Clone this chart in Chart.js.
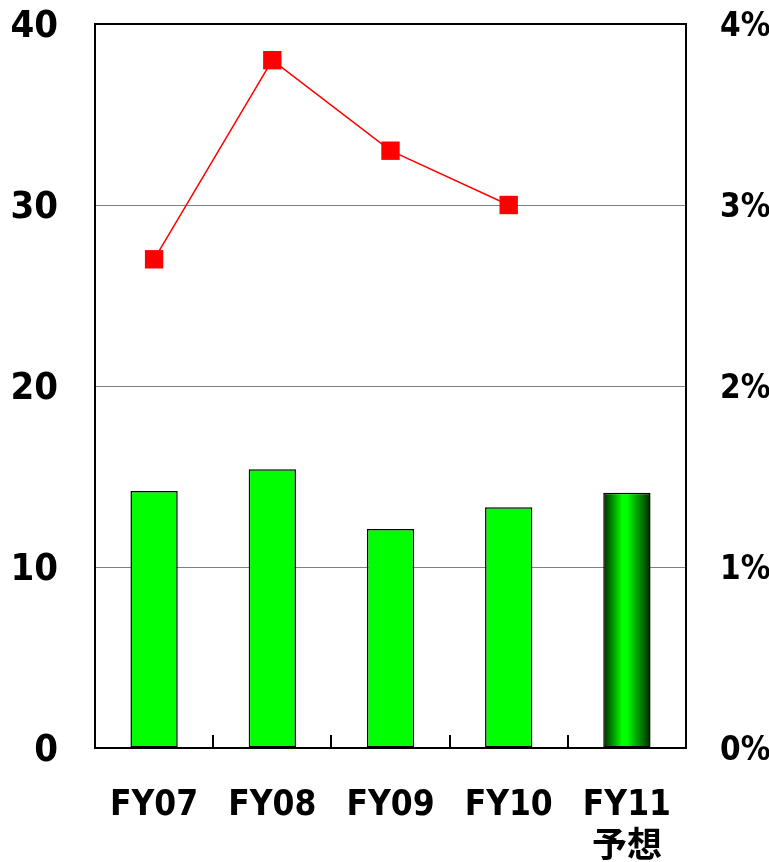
<!DOCTYPE html>
<html lang="ja">
<head>
    <meta charset="UTF-8">
    <title>FY07-FY11</title>
    <style>
        body { margin: 0; background: #fff; }
        #chart-container { width: 769px; height: 862px; }
    </style>
    <script src="https://cdn.jsdelivr.net/npm/chart.js"></script>
</head>
<body>
    <div id="chart-container">
        <canvas id="mainChart"></canvas>
    </div>
    <script>
        // 年度
        const categories = [['FY07'], ['FY08'], ['FY09'], ['FY10'], ['FY11', '予想']];
        // 棒グラフ (左軸)
        const barValues = [14.2, 15.4, 12.1, 13.3, 14.1];
        // 折れ線 (右軸, %) ; FY11 は値なし
        const lineValues = [2.7, 3.8, 3.3, 3.0, null];
        const leftTicks = [0, 10, 20, 30, 40];
        const rightTicks = [0, 1, 2, 3, 4];

        const FONT = "'DejaVu Sans Condensed', 'DejaVu Sans', 'Noto Sans CJK JP', sans-serif";
        const BAR_FRAC = 0.4;

        // 最後の棒だけグラデーション
        function barColor(ctx) {
            if (ctx.dataIndex !== barValues.length - 1) return '#00ff00';
            const chart = ctx.chart;
            const xs = chart.scales.x;
            if (!xs || !chart.chartArea) return '#00ff00';
            const cx = xs.getPixelForValue(ctx.dataIndex);
            const half = xs.width / categories.length * BAR_FRAC / 2;
            const g = chart.ctx.createLinearGradient(cx - half, 0, cx + half, 0);
            g.addColorStop(0, '#002800');
            g.addColorStop(0.4, '#00ff00');
            g.addColorStop(0.5, '#00ff00');
            g.addColorStop(1, '#002800');
            return g;
        }

        function noPad(s) {
            s.paddingTop = 0; s.paddingBottom = 0;
            s.paddingLeft = 0; s.paddingRight = 0;
        }

        // x軸の内向き目盛り
        const innerTicks = {
            id: 'innerTicks',
            afterDatasetsDraw(chart) {
                const xs = chart.scales.x;
                const c = chart.ctx;
                const y = chart.chartArea.bottom;
                c.save();
                c.strokeStyle = '#000';
                c.lineWidth = 2;
                for (let i = 1; i < categories.length; i++) {
                    const x = Math.round(xs.getPixelForValue(i - 0.5));
                    c.beginPath();
                    c.moveTo(x, y);
                    c.lineTo(x, y - 13);
                    c.stroke();
                }
                c.restore();
            }
        };

        new Chart(document.getElementById('mainChart'), {
            data: {
                labels: categories,
                datasets: [
                    {
                        type: 'line',
                        data: lineValues,
                        yAxisID: 'y2',
                        borderColor: '#ff0000',
                        borderWidth: 1.5,
                        pointStyle: 'rect',
                        pointRadius: 13,
                        pointBackgroundColor: '#ff0000',
                        pointBorderColor: '#ff0000',
                        pointBorderWidth: 0,
                        spanGaps: false,
                        order: 0
                    },
                    {
                        type: 'bar',
                        data: barValues,
                        yAxisID: 'y',
                        backgroundColor: barColor,
                        borderColor: '#000',
                        borderWidth: 1.5,
                        borderSkipped: false,
                        categoryPercentage: 1,
                        barPercentage: BAR_FRAC,
                        order: 1
                    }
                ]
            },
            options: {
                responsive: true,
                maintainAspectRatio: false,
                animation: false,
                layout: { padding: { top: 24, bottom: 0, left: 0, right: 0 } },
                plugins: {
                    legend: { display: false },
                    tooltip: { enabled: false }
                },
                scales: {
                    x: {
                        offset: true,
                        grid: { display: false, drawTicks: false },
                        border: { display: true, color: '#000', width: 2 },
                        ticks: {
                            color: '#000',
                            padding: 37,
                            font: { family: FONT, size: 35, weight: 'bold', lineHeight: 1.2 }
                        },
                        afterFit(s) { s.height = 114; noPad(s); }
                    },
                    y: {
                        position: 'left',
                        min: 0, max: 40,
                        afterBuildTicks(s) { s.ticks = leftTicks.map(v => ({ value: v })); },
                        grid: {
                            drawTicks: false,
                            color: c => (c.tick.value === 0 || c.tick.value === 40) ? 'rgba(0,0,0,0)' : '#808080',
                            lineWidth: 1
                        },
                        border: { display: true, color: '#000', width: 2 },
                        ticks: {
                            color: '#000',
                            padding: 37,
                            labelOffset: 3,
                            font: { family: FONT, size: 38, weight: 'bold' }
                        },
                        afterFit(s) { s.width = 95; noPad(s); }
                    },
                    y2: {
                        position: 'right',
                        min: 0, max: 4,
                        afterBuildTicks(s) { s.ticks = rightTicks.map(v => ({ value: v })); },
                        grid: { display: false, drawTicks: false },
                        border: { display: true, color: '#000', width: 2 },
                        ticks: {
                            color: '#000',
                            padding: 34,
                            labelOffset: 3,
                            font: { family: FONT, size: 33, weight: 'bold' },
                            callback: v => v + '%'
                        },
                        afterFit(s) { s.width = 83; noPad(s); }
                    }
                }
            },
            plugins: [innerTicks, {
                id: 'topBorder',
                afterDraw(chart) {
                    const a = chart.chartArea, c = chart.ctx;
                    c.save();
                    c.strokeStyle = '#000';
                    c.lineWidth = 2;
                    c.beginPath();
                    c.moveTo(a.left, a.top);
                    c.lineTo(a.right, a.top);
                    c.stroke();
                    c.restore();
                }
            }]
        });
    </script>
</body>
</html>
